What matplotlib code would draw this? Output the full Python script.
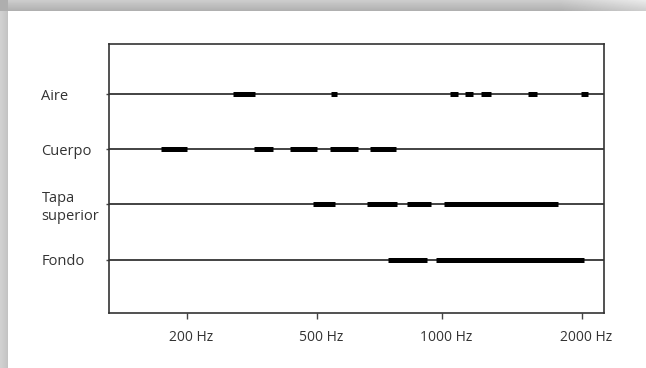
import numpy as np
import matplotlib
matplotlib.use("Agg")
import matplotlib.pyplot as plt
import matplotlib.transforms as mtransforms

plt.rcParams["font.family"] = ["Open Sans", "DejaVu Sans"]

# parts of the instrument, top to bottom
parts = ["Aire", "Cuerpo", "Tapa\nsuperior", "Fondo"]
rows = [4, 3, 2, 1]

# x axis is drawn in chart units (0..100); ticks are placed where the picture puts them
tick_pos = [15.7, 42.0, 67.2, 95.5]
tick_labels = ["200 Hz", "500 Hz", "1000 Hz", "2000 Hz"]

# resonance bands (start, end) on the same axis, one list per part
aire = [(24.9, 29.5), (44.8, 46.1), (68.9, 70.5), (71.8, 73.6), (75.2, 77.1),
        (84.7, 86.5), (95.4, 96.8)]
cuerpo = [(10.4, 15.7), (29.3, 33.0), (36.6, 41.9), (44.5, 50.3), (52.6, 57.9)]
tapa = [(41.1, 45.6), (52.1, 58.2), (60.2, 65.0), (67.6, 90.7)]
fondo = [(56.3, 64.2), (66.0, 96.0)]
bands = [aire, cuerpo, tapa, fondo]

fig = plt.figure(figsize=(6.46, 3.68), dpi=100)

# drop-shadow look of the original screenshot
bg = fig.add_axes([0, 0, 1, 1], zorder=-10)
H, W = 368, 646
yy, xx = np.mgrid[0:H, 0:W]
top = np.clip((11 - yy) / 11.0, 0, 1)
left = np.clip((8 - xx) / 8.0, 0, 1)
shade = np.zeros((H, W))
shade = np.where(yy < 11, 0.32 - 0.12 * top - 0.12 * np.clip((xx - 560) / 86.0, 0, 1), shade)
shade = np.where((xx < 8) & (yy >= 11), 0.24 - 0.06 * left, shade)
shade = np.where((xx < 8) & (yy < 11), 0.32, shade)
img = 1 - shade
bg.imshow(img, cmap="gray", vmin=0, vmax=1, extent=[0, W, H, 0], aspect="auto",
          interpolation="bilinear")
bg.axis("off")

ax = fig.add_axes([0.1695, 0.1495, 0.7655, 0.731])
for r, segs in zip(rows, bands):
    ax.axhline(r, color="#222222", lw=1.2, zorder=1)
    for a, b in segs:
        ax.plot([a, b], [r, r], color="black", lw=3.6, solid_capstyle="butt", zorder=2)

ax.set_xlim(0, 100)
ax.set_ylim(0.03, 4.915)
ax.set_xticks(tick_pos, tick_labels)
ax.set_yticks(rows, parts)
for lab in ax.get_yticklabels():
    lab.set_horizontalalignment("left")
    lab.set_multialignment("left")
ax.tick_params(axis="y", length=2, width=1, color="#444444", pad=47, labelsize=10.5,
               labelcolor="#333333")
ax.tick_params(axis="x", length=4, width=1, color="#444444", pad=8, labelsize=10,
               labelcolor="#333333")
# labels in the original sit a little right of their ticks
shift = mtransforms.ScaledTranslation(4 / 100, 0, fig.dpi_scale_trans)
for lab in ax.get_xticklabels():
    lab.set_transform(lab.get_transform() + shift)
for s in ax.spines.values():
    s.set_color("#333333")
    s.set_linewidth(1.2)

plt.savefig("out.png", dpi=100)
